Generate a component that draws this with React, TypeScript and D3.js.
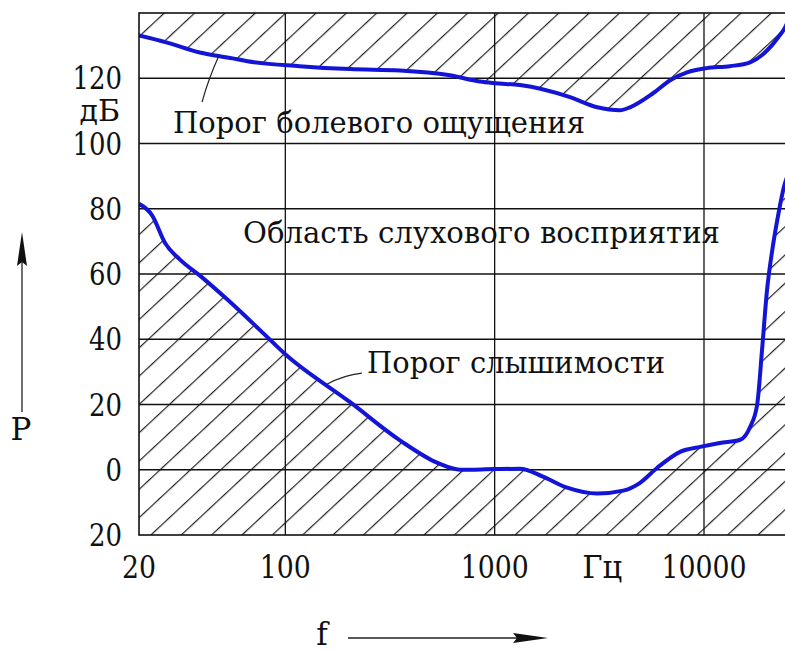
import React, { useEffect, useRef } from "react";
import * as d3 from "d3";

// порог болевого ощущения (Гц, дБ)
const painFreq = [20, 27, 39, 56, 66, 117, 204, 353, 612, 850, 1000, 1320, 2290, 3090, 3970, 4430, 5710, 6890, 8300, 10300, 13300, 16600, 20000, 22600, 24400, 25000];
const painDb = [133.1, 131, 127.9, 126.1, 125.2, 123.7, 122.8, 122.4, 120.9, 119, 118.5, 117.9, 114.2, 111.1, 110.2, 111.1, 115.4, 119.4, 121.8, 123.1, 123.7, 124.9, 128.5, 132.5, 135.6, 137];

// порог слышимости (Гц, дБ)
const hearFreq = [20, 23.1, 26.6, 31.4, 39.1, 53.2, 75.7, 100, 204, 353, 537, 684, 1000, 1320, 1700, 2220, 3090, 4110, 4950, 5980, 7690, 9580, 11900, 14900, 16600, 17950, 18950, 20000, 21150, 22600, 24150, 25000];
const hearDb = [81.5, 78, 69.6, 64.4, 59.5, 52, 42.8, 35.4, 20.7, 9, 2, 0, 0.2, 0.3, -2.1, -5.5, -7.3, -6.4, -4, 0.6, 5.5, 7, 8.2, 9.2, 13.1, 20, 37, 55, 67, 78, 87, 90];

const yTicks = [-20, 0, 20, 40, 60, 80, 100, 120];
const yTickLabels = ["20", "0", "20", "40", "60", "80", "100", "120"];
const xTicks = [20, 100, 1000, 10000];
const xTickLabels = ["20", "100", "1000", "10000"];

const font = "DejaVu Serif";

const drawChart = (el: SVGSVGElement) => {
  const svg = d3.select(el);
  svg.selectAll("*").remove();

  const x = d3.scaleLog().domain([20, 10000]).range([139, 704]);
  const y = d3.scaleLinear().domain([-20, 140]).range([535, 13]);
  const x0 = x(20);
  const x1 = x(25000);
  const yTop = y(140);
  const yBot = y(-20);

  const pain = painFreq.map((f, i) => [f, painDb[i]] as [number, number]);
  const hear = hearFreq.map((f, i) => [f, hearDb[i]] as [number, number]);

  const defs = svg.append("defs");
  defs
    .append("pattern")
    .attr("id", "hatch")
    .attr("patternUnits", "userSpaceOnUse")
    .attr("width", 20.7)
    .attr("height", 20.7)
    .attr("patternTransform", "translate(150,535) rotate(47)")
    .append("line")
    .attr("x1", 0.6)
    .attr("y1", -1)
    .attr("x2", 0.6)
    .attr("y2", 22)
    .attr("stroke", "#222")
    .attr("stroke-width", 1.2);

  defs
    .append("clipPath")
    .attr("id", "plotClip")
    .append("rect")
    .attr("x", x0)
    .attr("y", yTop)
    .attr("width", x1 - x0)
    .attr("height", yBot - yTop);

  const g = svg.append("g").attr("clip-path", "url(#plotClip)");

  // hatched regions
  const topArea = d3
    .area<[number, number]>()
    .x((d) => x(d[0]))
    .y0(yTop)
    .y1((d) => y(d[1]))
    .curve(d3.curveMonotoneX);
  const botArea = d3
    .area<[number, number]>()
    .x((d) => x(d[0]))
    .y0(yBot)
    .y1((d) => y(d[1]))
    .curve(d3.curveMonotoneX);
  g.append("path").attr("d", topArea(pain)).attr("fill", "url(#hatch)");
  g.append("path").attr("d", botArea(hear)).attr("fill", "url(#hatch)");

  // grid
  g.selectAll(".hgrid")
    .data(yTicks.slice(1))
    .enter()
    .append("line")
    .attr("x1", x0)
    .attr("x2", x1)
    .attr("y1", (d) => y(d))
    .attr("y2", (d) => y(d))
    .attr("stroke", "#111")
    .attr("stroke-width", 1.3);
  g.selectAll(".vgrid")
    .data(xTicks.slice(1))
    .enter()
    .append("line")
    .attr("x1", (d) => x(d))
    .attr("x2", (d) => x(d))
    .attr("y1", yTop)
    .attr("y2", yBot)
    .attr("stroke", "#111")
    .attr("stroke-width", 1.3);

  // curves
  const line = d3
    .line<[number, number]>()
    .x((d) => x(d[0]))
    .y((d) => y(d[1]))
    .curve(d3.curveMonotoneX);
  g.append("path")
    .attr("d", line(pain))
    .attr("fill", "none")
    .attr("stroke", "#1414d6")
    .attr("stroke-width", 4);
  g.append("path")
    .attr("d", line(hear))
    .attr("fill", "none")
    .attr("stroke", "#1414d6")
    .attr("stroke-width", 4);

  // frame
  svg
    .append("rect")
    .attr("x", x0)
    .attr("y", yTop)
    .attr("width", x1 - x0)
    .attr("height", yBot - yTop)
    .attr("fill", "none")
    .attr("stroke", "#111")
    .attr("stroke-width", 1.6);

  // leaders
  svg
    .append("path")
    .attr("d", `M${x(48)},${y(126.7)} Q${x(43)},${y(120)} ${x(40)},${y(112.7)}`)
    .attr("fill", "none")
    .attr("stroke", "#222")
    .attr("stroke-width", 1.2);
  svg
    .append("path")
    .attr("d", `M${x(232)},${y(29.6)} Q${x(190)},${y(29)} ${x(158)},${y(26.2)}`)
    .attr("fill", "none")
    .attr("stroke", "#222")
    .attr("stroke-width", 1.2);

  const txt = (s: string, tx: number, ty: number, anchor: string, size = 33, len?: number) => {
    const t = svg
      .append("text")
      .attr("x", tx)
      .attr("y", ty)
      .attr("text-anchor", anchor)
      .attr("font-family", font)
      .attr("font-size", size)
      .attr("fill", "#111")
      .text(s);
    if (len) t.attr("textLength", len).attr("lengthAdjust", "spacingAndGlyphs");
    return t;
  };

  // tick labels
  yTicks.forEach((d, i) => txt(yTickLabels[i], 122, y(d) + 11, "end", 31, 16.5 * yTickLabels[i].length));
  txt("дБ", 120, 121, "end", 30);
  xTicks.forEach((d, i) => txt(xTickLabels[i], x(d), 578, "middle", 31, 17 * xTickLabels[i].length));
  txt("Гц", x(Math.sqrt(1000 * 10000)) + 3, 578, "middle", 31, 40);

  // region labels
  txt("Порог болевого ощущения", 173, 133, "start", 30, 412);
  txt("Область слухового восприятия", 243, 243, "start", 30, 477);
  txt("Порог слышимости", 367, 373, "start", 30, 298);

  // axis arrows
  svg
    .append("line")
    .attr("x1", 22)
    .attr("x2", 22)
    .attr("y1", 412)
    .attr("y2", 250)
    .attr("stroke", "#222")
    .attr("stroke-width", 1.3);
  svg
    .append("path")
    .attr("d", "M22,232 L27,266 L22,262 L17,266 Z")
    .attr("fill", "#111");
  txt("P", 21, 440, "middle", 31);

  svg
    .append("line")
    .attr("x1", 348)
    .attr("x2", 530)
    .attr("y1", 638)
    .attr("y2", 638)
    .attr("stroke", "#222")
    .attr("stroke-width", 1.3);
  svg
    .append("path")
    .attr("d", "M548,638 L513,633 L517,638 L513,643 Z")
    .attr("fill", "#111");
  txt("f", 322, 645, "middle", 31);
};

const App = () => {
  const ref = useRef<SVGSVGElement>(null);
  useEffect(() => {
    if (ref.current) drawChart(ref.current);
  }, []);
  return (
    <svg
      ref={ref}
      width={785}
      height={651}
      style={{ position: "absolute", left: 0, top: 0, background: "#fff" }}
    ></svg>
  );
};

export default App;
